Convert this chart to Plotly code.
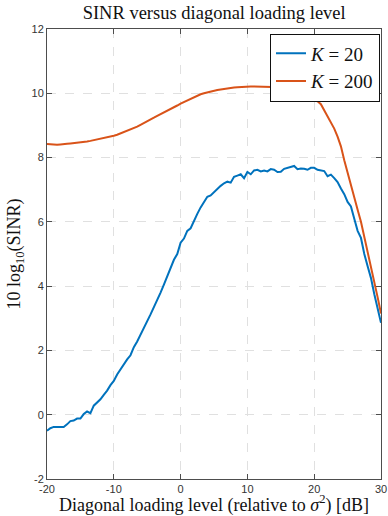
import numpy as np
import plotly.graph_objects as go

loading_db = [-20 + 0.5 * i for i in range(101)]

sinr_k20 = [
    -0.50, -0.42, -0.38, -0.38, -0.40, -0.38, -0.30, -0.20, -0.18, -0.12,
    -0.12, 0.02, 0.10, 0.05, 0.28, 0.38, 0.48, 0.62, 0.75, 0.92,
    1.05, 1.25, 1.42, 1.58, 1.72, 1.85, 2.10, 2.28, 2.48, 2.70,
    2.92, 3.12, 3.35, 3.55, 3.80, 4.05, 4.30, 4.58, 4.82, 5.00,
    5.35, 5.48, 5.72, 5.80, 6.05, 6.25, 6.45, 6.62, 6.78, 6.82,
    6.92, 7.05, 7.12, 7.20, 7.25, 7.22, 7.40, 7.44, 7.48, 7.36,
    7.55, 7.48, 7.60, 7.62, 7.57, 7.60, 7.57, 7.64, 7.62, 7.55,
    7.56, 7.65, 7.68, 7.70, 7.74, 7.64, 7.66, 7.65, 7.62, 7.68,
    7.68, 7.62, 7.60, 7.58, 7.42, 7.47, 7.36, 7.24, 7.04, 6.86,
    6.62, 6.48, 6.10, 5.72, 5.50, 5.00, 4.62, 4.25, 3.75, 3.30,
    2.86,
]

sinr_k200 = [
    8.42, 8.41, 8.40, 8.40, 8.41, 8.43, 8.43, 8.44, 8.45, 8.45,
    8.48, 8.49, 8.50, 8.52, 8.54, 8.56, 8.58, 8.60, 8.62, 8.65,
    8.68, 8.71, 8.75, 8.79, 8.82, 8.87, 8.92, 8.96, 9.02, 9.07,
    9.13, 9.18, 9.24, 9.30, 9.35, 9.40, 9.46, 9.52, 9.57, 9.62,
    9.68, 9.73, 9.78, 9.83, 9.88, 9.93, 9.97, 10.00, 10.03, 10.06,
    10.08, 10.10, 10.12, 10.14, 10.16, 10.17, 10.18, 10.19, 10.20, 10.20,
    10.20, 10.21, 10.21, 10.21, 10.21, 10.21, 10.21, 10.21, 10.20, 10.20,
    10.19, 10.18, 10.17, 10.15, 10.13, 10.10, 10.07, 10.02, 9.95, 9.89,
    9.82, 9.75, 9.66, 9.47, 9.30, 9.13, 8.90, 8.65, 8.35, 7.92,
    7.55, 7.20, 6.75, 6.38, 6.00, 5.55, 5.05, 4.58, 4.12, 3.65,
    3.15,
]

x_ticks = [-20, -10, 0, 10, 20, 30]
x_tick_labels = ["-20", "-10", "0", "10", "20", "30"]
y_ticks = [-2, 0, 2, 4, 6, 8, 10, 12]
y_tick_labels = ["-2", "0", "2", "4", "6", "8", "10", "12"]

series_names = ["<i>K</i> = 20", "<i>K</i> = 200"]
series_colors = ["#0072BD", "#D95319"]

serif = "Liberation Serif, Times New Roman, serif"
sans = "Liberation Sans, Arial, sans-serif"

fig = go.Figure()
for yvals, name, color in zip([sinr_k20, sinr_k200], series_names, series_colors):
    fig.add_trace(go.Scatter(x=loading_db, y=yvals, mode="lines", name=name,
                             line=dict(color=color, width=2)))

axis_common = dict(
    showline=True, linecolor="#4d4d4d", linewidth=1, mirror="ticks",
    ticks="inside", ticklen=5, tickcolor="#4d4d4d", tickwidth=1,
    showgrid=True, gridcolor="#e0e0e0", griddash="dash", gridwidth=1,
    zeroline=False, automargin=False,
    tickfont=dict(family=sans, size=11, color="#333333"),
)

fig.update_layout(
    width=388, height=516,
    margin=dict(l=47, r=7, t=29, b=37, autoexpand=False),
    paper_bgcolor="white", plot_bgcolor="white",
    title=dict(text="SINR versus diagonal loading level", x=0.552, xanchor="center",
               y=0.976, yanchor="middle",
               font=dict(family=serif, size=18.5, color="#111111")),
    xaxis=dict(range=[-20, 30], tickvals=x_ticks, ticktext=x_tick_labels,
               title=dict(text="Diagonal loading level (relative to <i>σ</i><sup>2</sup>) [dB]",
                          font=dict(family=serif, size=18, color="#111111"), standoff=0),
               **axis_common),
    yaxis=dict(range=[-2, 12], tickvals=y_ticks, ticktext=y_tick_labels,
               title=dict(text="10 log<sub>10</sub>(SINR)",
                          font=dict(family=serif, size=18, color="#111111"), standoff=6),
               **axis_common),
    legend=dict(x=0.997, y=0.99, xanchor="right", yanchor="top",
                bgcolor="white", bordercolor="#111111", borderwidth=1,
                font=dict(family=serif, size=19, color="#111111"),
                tracegroupgap=0, itemwidth=30),
    showlegend=True,
)

fig.write_html("out.html", config={"displayModeBar": False},
               post_script="document.body.style.margin='0';")
